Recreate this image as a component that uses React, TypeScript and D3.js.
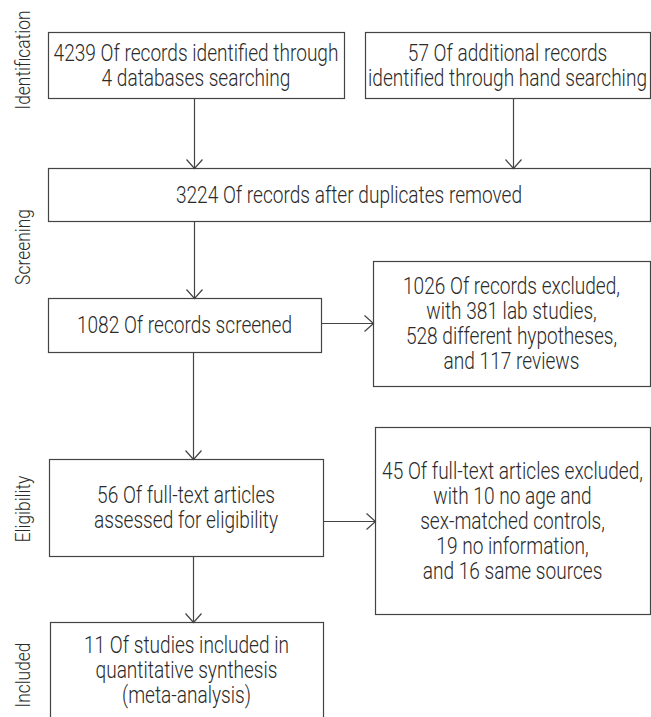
import React from "react";
import * as d3 from "d3";

const stages = ["Identification", "Screening", "Eligibility", "Included"];
const boxTexts = [
  ["4239 Of records identified through", "4 databases searching"],
  ["57 Of additional records", "identified through hand searching"],
  ["3224 Of records after duplicates removed"],
  ["1082 Of records screened"],
  ["1026 Of records excluded,", "with 381 lab studies,", "528 different hypotheses,", "and 117 reviews"],
  ["56 Of full-text articles", "assessed for eligibility"],
  ["45 Of full-text articles excluded,", "with 10 no age and", "sex-matched controls,", "19 no information,", "and 16 same sources"],
  ["11 Of studies included in", "quantitative synthesis", "(meta-analysis)"],
];
const links: [number, number, string][] = [
  [0, 2, "down"],
  [1, 2, "down"],
  [2, 3, "down"],
  [3, 4, "right"],
  [3, 5, "down"],
  [5, 6, "right"],
  [5, 7, "down"],
];

// layout (pixels)
const boxes = [
  { x: 48, y: 32, w: 296, h: 66 },
  { x: 365, y: 32, w: 285, h: 66 },
  { x: 48, y: 168, w: 602, h: 53 },
  { x: 48, y: 298, w: 273, h: 54 },
  { x: 373, y: 261, w: 277, h: 125 },
  { x: 49, y: 459, w: 274, h: 97 },
  { x: 375, y: 427, w: 275, h: 187 },
  { x: 50, y: 622, w: 273, h: 110 },
];
const arrowX = [194, 513, 194, 0, 193, 0, 193];
const stageY = [60, 247, 509, 675];

const FONT = "Roboto, sans-serif";
const SX = 0.83;
const LINE = 25;
const STROKE = "#444";
const TEXT = "#2a2a2a";

export default function App() {
  const W = 651, H = 717;
  const line = d3.line<[number, number]>();
  return (
    <svg width={W} height={H} style={{ position: "absolute", left: 0, top: 0, background: "#fff" }}>
      {stages.map((s, i) => (
        <text key={s} transform={`translate(30,${stageY[i]}) rotate(-90) scale(${SX},1)`} textAnchor="middle"
          fontFamily={FONT} fontWeight={300} fontSize={21} fill={TEXT}>{s}</text>
      ))}
      {boxes.map((b, i) => {
        const lines = boxTexts[i];
        const cy = i === 7 ? b.y + 48 : b.y + b.h / 2;
        const y0 = cy - ((lines.length - 1) * LINE) / 2;
        return (
          <g key={i}>
            <rect x={b.x + 0.5} y={b.y + 0.5} width={b.w} height={b.h} fill="#fff" stroke={STROKE} strokeWidth={1.2} />
            {lines.map((t, j) => (
              <text key={j} transform={`translate(${b.x + b.w / 2},${y0 + j * LINE}) scale(${SX},1)`} dy="0.36em" textAnchor="middle"
                fontFamily={FONT} fontWeight={300} fontSize={23} fill={TEXT}>{t}</text>
            ))}
          </g>
        );
      })}
      {links.map(([a, b, dir], i) => {
        const A = boxes[a], B = boxes[b];
        let pts: [number, number][];
        let head: [number, number][];
        if (dir === "down") {
          const x = arrowX[i] + 0.5;
          const y1 = A.y + A.h + 0.5, y2 = B.y + 0.5;
          pts = [[x, y1], [x, y2]];
          head = [[x - 8, y2 - 9], [x, y2], [x + 8, y2 - 9]];
        } else {
          const y = (b === 4 ? 323 : 521) + 0.5;
          const x1 = A.x + A.w + 0.5, x2 = B.x + 0.5;
          pts = [[x1, y], [x2, y]];
          head = [[x2 - 9, y - 8], [x2, y], [x2 - 9, y + 8]];
        }
        return (
          <g key={i}>
            <path d={line(pts) || ""} stroke={STROKE} strokeWidth={1.2} fill="none" />
            <path d={line(head) || ""} stroke={STROKE} strokeWidth={1.2} fill="none" />
          </g>
        );
      })}
    </svg>
  );
}
